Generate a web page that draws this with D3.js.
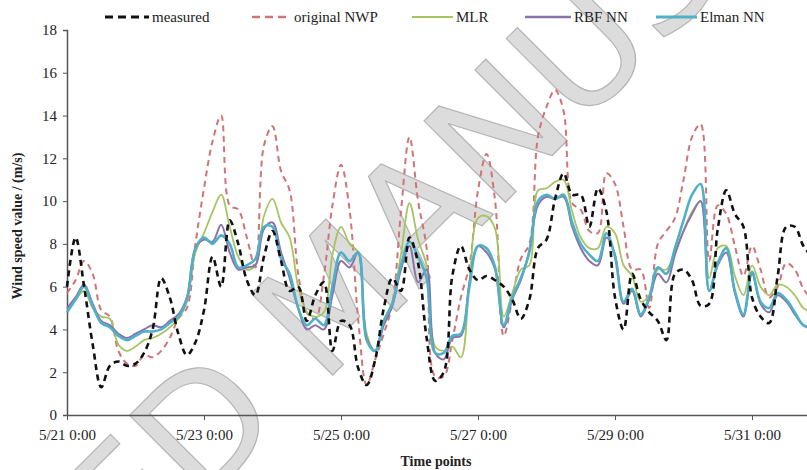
<!DOCTYPE html>
<html>
<head>
<meta charset="utf-8">
<script src="https://cdn.jsdelivr.net/npm/d3@7"></script>
<style>
  body { margin: 0; background: #fff; }
  svg text { font-family: "Liberation Serif", "Times New Roman", serif; }
</style>
</head>
<body>
<div id="chart"></div>
<script>
// time axis: 3-hourly points starting 5/21 0:00
const startTime = new Date(2011, 4, 21, 0, 0);
const stepHours = 3;

const measured = [6.0, 8.3, 6.0, 3.3, 1.3, 2.3, 2.5, 2.3, 2.4, 2.9, 4.0, 6.4, 5.5, 3.8, 2.8, 3.4,
  4.9, 7.4, 6.0, 9.1, 8.0, 6.3, 5.6, 7.4, 8.6, 7.2, 5.8, 6.0, 4.4, 5.6, 6.2, 3.0,
  4.4, 4.2, 2.2, 1.4, 2.6, 5.0, 6.4, 5.8, 8.3, 7.1, 3.6, 1.6, 2.0, 6.5, 7.9, 6.8,
  6.3, 6.5, 6.3, 6.0, 5.4, 4.5, 5.4, 7.8, 8.2, 10.1, 11.3, 10.3, 10.3, 8.8, 10.6, 9.5,
  5.5, 4.0, 6.6, 5.4, 4.8, 4.4, 3.5, 6.6, 6.8, 6.3, 5.1, 5.2, 8.7, 10.5, 9.4, 8.8,
  5.5, 4.6, 4.3, 6.5, 8.8, 8.8, 7.9, 7.4];

const originalNWP = [5.7, 6.3, 7.2, 6.6, 4.9, 4.6, 3.0, 2.4, 2.3, 2.8, 2.7, 3.0, 3.6, 4.5, 5.0, 8.0,
  10.6, 12.8, 14.0, 9.8, 9.6, 8.3, 6.9, 12.6, 13.5, 11.4, 10.5, 6.6, 4.8, 4.5, 6.5, 9.8,
  11.7, 9.6, 4.5, 1.4, 2.6, 3.8, 5.2, 9.5, 13.0, 10.0, 7.8, 1.8, 1.8, 3.5, 5.5, 7.0,
  10.5, 12.2, 10.0, 3.7, 5.4, 7.3, 8.0, 13.0, 14.4, 15.2, 14.2, 9.9, 9.6, 8.6, 8.5, 11.3,
  10.8, 8.8, 6.8, 6.8, 5.0, 8.0, 8.6, 9.2, 11.0, 13.0, 13.6, 7.2, 9.8, 9.4, 7.9, 6.5,
  7.9, 6.8, 5.5, 6.0, 7.1, 6.8, 5.9, 5.4];

const mlr = [5.0, 5.4, 5.8, 5.0, 4.6, 4.5, 3.3, 3.0, 3.2, 3.5, 3.6, 3.8, 4.1, 4.5, 5.3, 7.6,
  8.5, 9.5, 10.3, 8.8, 7.4, 6.8, 7.0, 9.3, 10.1, 9.0, 8.3, 6.0, 4.8, 4.6, 4.8, 7.5,
  8.8, 8.0, 7.6, 3.8, 3.0, 4.4, 5.3, 7.5, 9.9, 8.2, 7.0, 3.2, 3.0, 3.2, 2.7, 6.2,
  9.2, 9.3, 8.7, 4.6, 5.7, 6.8, 7.0, 10.5, 10.6, 10.9, 11.0, 9.5, 8.3, 7.8, 7.8, 8.8,
  8.5, 7.0, 6.5, 5.3, 5.6, 6.8, 6.8, 7.6, 8.6, 9.5, 10.0, 6.4, 7.8, 7.9, 6.5, 5.6,
  7.0, 6.0, 5.6, 6.1, 6.0, 5.6, 5.0, 4.8];

const rbfNN = [5.0, 5.5, 6.1, 5.2, 4.4, 4.2, 3.8, 3.6, 3.8, 4.0, 4.2, 4.1, 4.4, 4.7, 5.5, 7.8,
  8.2, 8.1, 8.9, 7.6, 6.8, 6.9, 7.0, 8.7, 9.0, 7.6, 6.4, 5.0, 4.0, 4.2, 4.0, 5.6,
  7.2, 6.9, 7.6, 3.6, 3.0, 4.2, 5.1, 6.8, 7.9, 6.2, 6.8, 2.9, 2.6, 3.6, 3.7, 6.2,
  7.9, 7.6, 6.8, 4.1, 5.4, 6.3, 7.7, 9.8, 10.2, 10.1, 10.2, 8.8, 7.8, 7.2, 7.0, 8.3,
  7.5, 5.2, 5.8, 4.6, 5.4, 6.6, 6.2, 7.5, 8.6, 9.4, 10.0, 5.8, 7.0, 7.6, 5.7, 4.6,
  6.6, 5.2, 4.8, 5.6, 5.3, 4.7, 4.2, 4.0];

const elmanNN = [4.8, 5.4, 6.0, 5.1, 4.3, 4.1, 3.7, 3.5, 3.7, 3.9, 3.9, 4.0, 4.3, 4.6, 5.4, 7.8,
  8.3, 8.0, 8.4, 8.0, 6.9, 7.0, 7.3, 8.8, 8.8, 7.3, 6.6, 5.0, 4.2, 4.5, 4.2, 6.0,
  7.6, 7.2, 7.6, 3.5, 3.0, 4.4, 5.2, 7.0, 8.1, 7.4, 6.4, 2.9, 2.9, 3.7, 3.8, 6.0,
  7.9, 7.8, 6.9, 4.2, 5.5, 6.4, 7.6, 10.0, 10.3, 10.1, 10.3, 9.0, 8.0, 7.5, 7.2, 8.5,
  7.4, 5.3, 5.9, 4.7, 5.5, 6.9, 6.6, 7.8, 9.1, 10.3, 10.8, 5.8, 7.1, 7.8, 5.8, 4.7,
  6.7, 5.3, 5.0, 5.7, 5.4, 4.8, 4.2, 4.1];

const seriesNames = ['measured', 'original NWP', 'MLR', 'RBF NN', 'Elman NN'];
const yTicks = [0, 2, 4, 6, 8, 10, 12, 14, 16, 18];
const xTickDays = [21, 23, 25, 27, 29, 31];

const width = 807, height = 470;

const series = [
  {name: seriesNames[0], values: measured, color: '#111', width: 2.6, dash: '6,4.5'},
  {name: seriesNames[1], values: originalNWP, color: '#cf7477', width: 2, dash: '6,4.5'},
  {name: seriesNames[2], values: mlr, color: '#a5c462', width: 1.8, dash: null},
  {name: seriesNames[3], values: rbfNN, color: '#8a72ab', width: 2, dash: null},
  {name: seriesNames[4], values: elmanNN, color: '#4fb0c8', width: 2.6, dash: null}
];

const svg = d3.select('#chart').append('svg')
  .attr('width', width)
  .attr('height', height);

// 2 days = 137 px
const x = d3.scaleTime()
  .domain([startTime, new Date(2011, 5, 1, 0, 0)])
  .range([67, 67 + 11 * 68.5]);

const y = d3.scaleLinear()
  .domain([0, 18])
  .range([415, 30]);

const timeOf = i => d3.timeHour.offset(startTime, i * stepHours);

// watermark (behind the data), clipped to the picture
svg.append('clipPath').attr('id', 'wm-clip')
  .append('rect').attr('width', width).attr('height', height);
svg.append('g')
  .attr('clip-path', 'url(#wm-clip)')
  .append('text')
  .attr('transform', 'translate(335,295) rotate(-45)')
  .attr('text-anchor', 'middle')
  .attr('dominant-baseline', 'central')
  .style('font-family', '"DejaVu Sans", sans-serif')
  .style('font-size', '158px')
  .attr('fill', '#dcdcdc')
  .attr('stroke', '#b4b4b4')
  .attr('stroke-width', 1.2)
  .text('ACCEPTED MANUSCRIPT');

// y axis
const yAxis = svg.append('g')
  .attr('transform', 'translate(67,0)')
  .call(d3.axisLeft(y).tickValues(yTicks).tickSize(4).tickPadding(6));
yAxis.select('.domain').attr('stroke', '#555').attr('stroke-width', 1.5);
yAxis.selectAll('.tick line').attr('stroke', '#555');
yAxis.selectAll('.tick text')
  .style('font-family', '"Liberation Serif", serif')
  .style('font-size', '15px')
  .attr('fill', '#222');

// x axis
const xAxis = svg.append('g')
  .attr('transform', 'translate(0,415)')
  .call(d3.axisBottom(x)
    .tickValues(xTickDays.map(d => new Date(2011, 4, d, 0, 0)))
    .tickFormat(d3.timeFormat('%-m/%-d %-H:%M'))
    .tickSizeInner(5)
    .tickSizeOuter(0)
    .tickPadding(9));
xAxis.select('.domain').attr('stroke', '#555').attr('stroke-width', 1.5);
xAxis.selectAll('.tick line').attr('stroke', '#555');
xAxis.selectAll('.tick text')
  .style('font-family', '"Liberation Serif", serif')
  .style('font-size', '15px')
  .attr('fill', '#222');

// lines
const line = d3.line()
  .x((d, i) => x(timeOf(i)))
  .y(d => y(d))
  .curve(d3.curveCatmullRom.alpha(0.5));

const drawOrder = [1, 2, 3, 4, 0];
drawOrder.forEach(idx => {
  let s = series[idx];
  svg.append('path')
    .datum(s.values)
    .attr('d', line)
    .attr('fill', 'none')
    .attr('stroke', s.color)
    .attr('stroke-width', s.width)
    .attr('stroke-dasharray', s.dash)
    .attr('stroke-linejoin', 'round');
});

// legend
const legendPos = [[105, 149], [252, 291], [412, 453], [525, 571], [656, 697]];
series.forEach((s, i) => {
  let g = svg.append('g').attr('class', 'legend-item');
  g.append('line')
    .attr('x1', legendPos[i][0]).attr('x2', legendPos[i][1])
    .attr('y1', 17).attr('y2', 17)
    .attr('stroke', s.color)
    .attr('stroke-width', s.width + 0.4)
    .attr('stroke-dasharray', s.dash ? '8,5' : null);
  g.append('text')
    .attr('x', legendPos[i][1] + 3)
    .attr('y', 22)
    .style('font-size', '15px')
    .attr('fill', '#222')
    .text(s.name);
});

// axis titles
svg.append('text')
  .attr('transform', 'translate(22,226) rotate(-90)')
  .attr('text-anchor', 'middle')
  .style('font-size', '14px')
  .style('font-weight', 'bold')
  .attr('fill', '#222')
  .text('Wind speed value  / (m/s)');

svg.append('text')
  .attr('x', 436)
  .attr('y', 466)
  .attr('text-anchor', 'middle')
  .style('font-size', '14px')
  .style('font-weight', 'bold')
  .attr('fill', '#222')
  .text('Time points');
</script>
</body>
</html>
